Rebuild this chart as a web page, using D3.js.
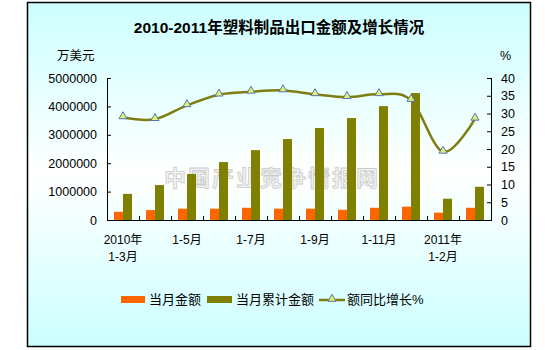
<!DOCTYPE html>
<html>
<head>
<meta charset="utf-8">
<script src="https://cdn.jsdelivr.net/npm/d3@7"></script>
<style>
  html, body { margin: 0; padding: 0; background: #fff; }
  svg { display: block; }
  text { font-family: "Liberation Sans", Arial, "Noto Sans CJK SC", sans-serif; }
</style>
</head>
<body>
<svg id="chart" width="545" height="350"></svg>
<script>
// Plastic products export: monthly value, cumulative value (10k USD) and YoY growth (%)
const categories = ["2010-1-3", "2010-1-4", "2010-1-5", "2010-1-6", "2010-1-7", "2010-1-8",
                    "2010-1-9", "2010-1-10", "2010-1-11", "2010-1-12", "2011-1-2", "2011-1-3"];
const monthly    = [290000, 350000, 400000, 400000, 430000, 400000, 400000, 360000, 430000, 470000, 260000, 430000];
const cumulative = [920000, 1230000, 1620000, 2040000, 2460000, 2850000, 3240000, 3590000, 4010000, 4470000, 750000, 1170000];
const growth     = [28.9, 28.4, 32.3, 35.3, 36.1, 36.5, 35.4, 34.6, 35.4, 33.8, 19.2, 28.5];

// Axis tick labels shown under the category axis (line 1 / line 2)
const xTickLabels = [["2010年", "1-3月"], null, ["1-5月"], null, ["1-7月"], null,
                     ["1-9月"], null, ["1-11月"], null, ["2011年", "1-2月"], null];
const leftTicks  = [0, 1000000, 2000000, 3000000, 4000000, 5000000];
const rightTicks = [0, 5, 10, 15, 20, 25, 30, 35, 40];

const title = "2010-2011年塑料制品出口金额及增长情况";
const legendItems = ["当月金额", "当月累计金额", "额同比增长%"];

const colors = { monthly: "#ff6600", cumulative: "#808000", line: "#7d7d12",
                 markerFill: "#d9f56a", markerStroke: "#5f6fc0" };

const svg = d3.select("#chart");
const W = 545, H = 350;
const plot = { left: 107, right: 491, top: 78, bottom: 220 };

// background gradient of the chart area
const defs = svg.append("defs");
const grad = defs.append("linearGradient").attr("id", "bg").attr("x1", 0).attr("y1", 0).attr("x2", 0).attr("y2", 1);
grad.append("stop").attr("offset", "0%").attr("stop-color", "#ccffff");
grad.append("stop").attr("offset", "50%").attr("stop-color", "#ffffff");
grad.append("stop").attr("offset", "100%").attr("stop-color", "#ccffff");

svg.append("rect").attr("width", W).attr("height", H).attr("fill", "#fff");
svg.append("rect")
  .attr("x", 27.5).attr("y", 2.5).attr("width", 503).attr("height", 344)
  .attr("fill", "url(#bg)").attr("stroke", "#000").attr("stroke-width", 1.5);

// title and axis units
svg.append("text").attr("x", 279).attr("y", 33).attr("text-anchor", "middle")
  .attr("font-size", 15.5).attr("font-weight", "bold").attr("fill", "#000").text(title);
svg.append("text").attr("x", 57).attr("y", 60).attr("font-size", 12.5).text("万美元");
svg.append("text").attr("x", 500).attr("y", 60).attr("font-size", 12.5).text("%");

// scales
const x0 = d3.scaleBand().domain(categories).range([plot.left, plot.right]).padding(0);
const x1 = d3.scaleBand().domain(["monthly", "cumulative"]).range([0, x0.bandwidth()])
  .paddingInner(0).paddingOuter(0.78);
const yL = d3.scaleLinear().domain([0, 5000000]).range([plot.bottom, plot.top]);
const yR = d3.scaleLinear().domain([0, 40]).range([plot.bottom, plot.top]);

// watermark
svg.append("text").attr("x", 272).attr("y", 186).attr("text-anchor", "middle")
  .attr("font-family", "'Noto Sans CJK SC', sans-serif").attr("font-weight", "bold")
  .attr("font-size", 22).attr("letter-spacing", 2)
  .attr("fill", "#f2f2f2").attr("stroke", "#cccccc").attr("stroke-width", 0.8)
  .text("中国产业竞争情报网");

// bars
const groups = svg.append("g").selectAll("g").data(categories).join("g")
  .attr("transform", d => `translate(${x0(d)},0)`);
groups.append("rect")
  .attr("x", x1("monthly")).attr("width", x1.bandwidth())
  .attr("y", (d, i) => yL(monthly[i])).attr("height", (d, i) => yL(0) - yL(monthly[i]))
  .attr("fill", colors.monthly);
groups.append("rect")
  .attr("x", x1("cumulative")).attr("width", x1.bandwidth())
  .attr("y", (d, i) => yL(cumulative[i])).attr("height", (d, i) => yL(0) - yL(cumulative[i]))
  .attr("fill", colors.cumulative);

// axes
const leftAxis = d3.axisLeft(yL).tickValues(leftTicks).tickSize(-4).tickPadding(10).tickFormat(d3.format("d"));
const gL = svg.append("g").attr("transform", `translate(${plot.left},0)`).call(leftAxis);
const rightAxis = d3.axisRight(yR).tickValues(rightTicks).tickSize(-4).tickPadding(10);
const gR = svg.append("g").attr("transform", `translate(${plot.right},0)`).call(rightAxis);
[gL, gR].forEach(g => {
  g.selectAll(".tick line").attr("stroke", "#000");
  g.selectAll("text").attr("font-size", 12.5).attr("fill", "#000")
    .attr("font-family", "'Liberation Sans', Arial, sans-serif");
});
gL.select(".domain").remove();
gR.select(".domain").remove();
svg.append("line").attr("x1", plot.left + 0.5).attr("x2", plot.left + 0.5)
  .attr("y1", plot.top).attr("y2", plot.bottom).attr("stroke", "#000");
svg.append("line").attr("x1", plot.right + 0.5).attr("x2", plot.right + 0.5)
  .attr("y1", plot.top).attr("y2", plot.bottom).attr("stroke", "#000");

// category axis with ticks on group boundaries
const gX = svg.append("g").attr("transform", `translate(0,${plot.bottom})`);
gX.append("line").attr("x1", plot.left).attr("x2", plot.right + 1)
  .attr("y1", 0.5).attr("y2", 0.5).attr("stroke", "#000");
gX.selectAll("line.tk").data(categories.slice(1)).join("line").attr("class", "tk")
  .attr("x1", d => x0(d) + 0.5).attr("x2", d => x0(d) + 0.5)
  .attr("y1", -4).attr("y2", 0.5).attr("stroke", "#000");
categories.forEach((c, i) => {
  const lab = xTickLabels[i];
  if (!lab) return;
  lab.forEach((t, j) => {
    gX.append("text").attr("x", x0(c) + x0.bandwidth() / 2).attr("y", 24 + j * 17)
      .attr("text-anchor", "middle").attr("font-size", 12).attr("fill", "#000").text(t);
  });
});

// growth line
const line = d3.line()
  .x((d, i) => x0(categories[i]) + x0.bandwidth() / 2)
  .y(d => yR(d))
  .curve(d3.curveCatmullRom.alpha(0));
svg.append("path").datum(growth).attr("d", line)
  .attr("fill", "none").attr("stroke", colors.line).attr("stroke-width", 2.5);
const tri = d3.symbol().type(d3.symbolTriangle).size(28);
svg.append("g").selectAll("path").data(growth).join("path")
  .attr("transform", (d, i) => `translate(${x0(categories[i]) + x0.bandwidth() / 2},${yR(d) - 1})`)
  .attr("d", tri).attr("fill", colors.markerFill).attr("stroke", colors.markerStroke).attr("stroke-width", 1);

// legend
const lg = svg.append("g");
lg.append("rect").attr("x", 121).attr("y", 296).attr("width", 24).attr("height", 7).attr("fill", colors.monthly);
lg.append("text").attr("x", 149).attr("y", 304).attr("font-size", 13).text(legendItems[0]);
lg.append("rect").attr("x", 207).attr("y", 296).attr("width", 25).attr("height", 7).attr("fill", colors.cumulative);
lg.append("text").attr("x", 236).attr("y", 304).attr("font-size", 13).text(legendItems[1]);
lg.append("line").attr("x1", 319).attr("x2", 345).attr("y1", 300).attr("y2", 300)
  .attr("stroke", colors.line).attr("stroke-width", 2.5);
lg.append("path").attr("transform", "translate(332,299)").attr("d", tri)
  .attr("fill", colors.markerFill).attr("stroke", colors.markerStroke);
lg.append("text").attr("x", 347).attr("y", 304).attr("font-size", 13).text(legendItems[2]);
</script>
</body>
</html>
